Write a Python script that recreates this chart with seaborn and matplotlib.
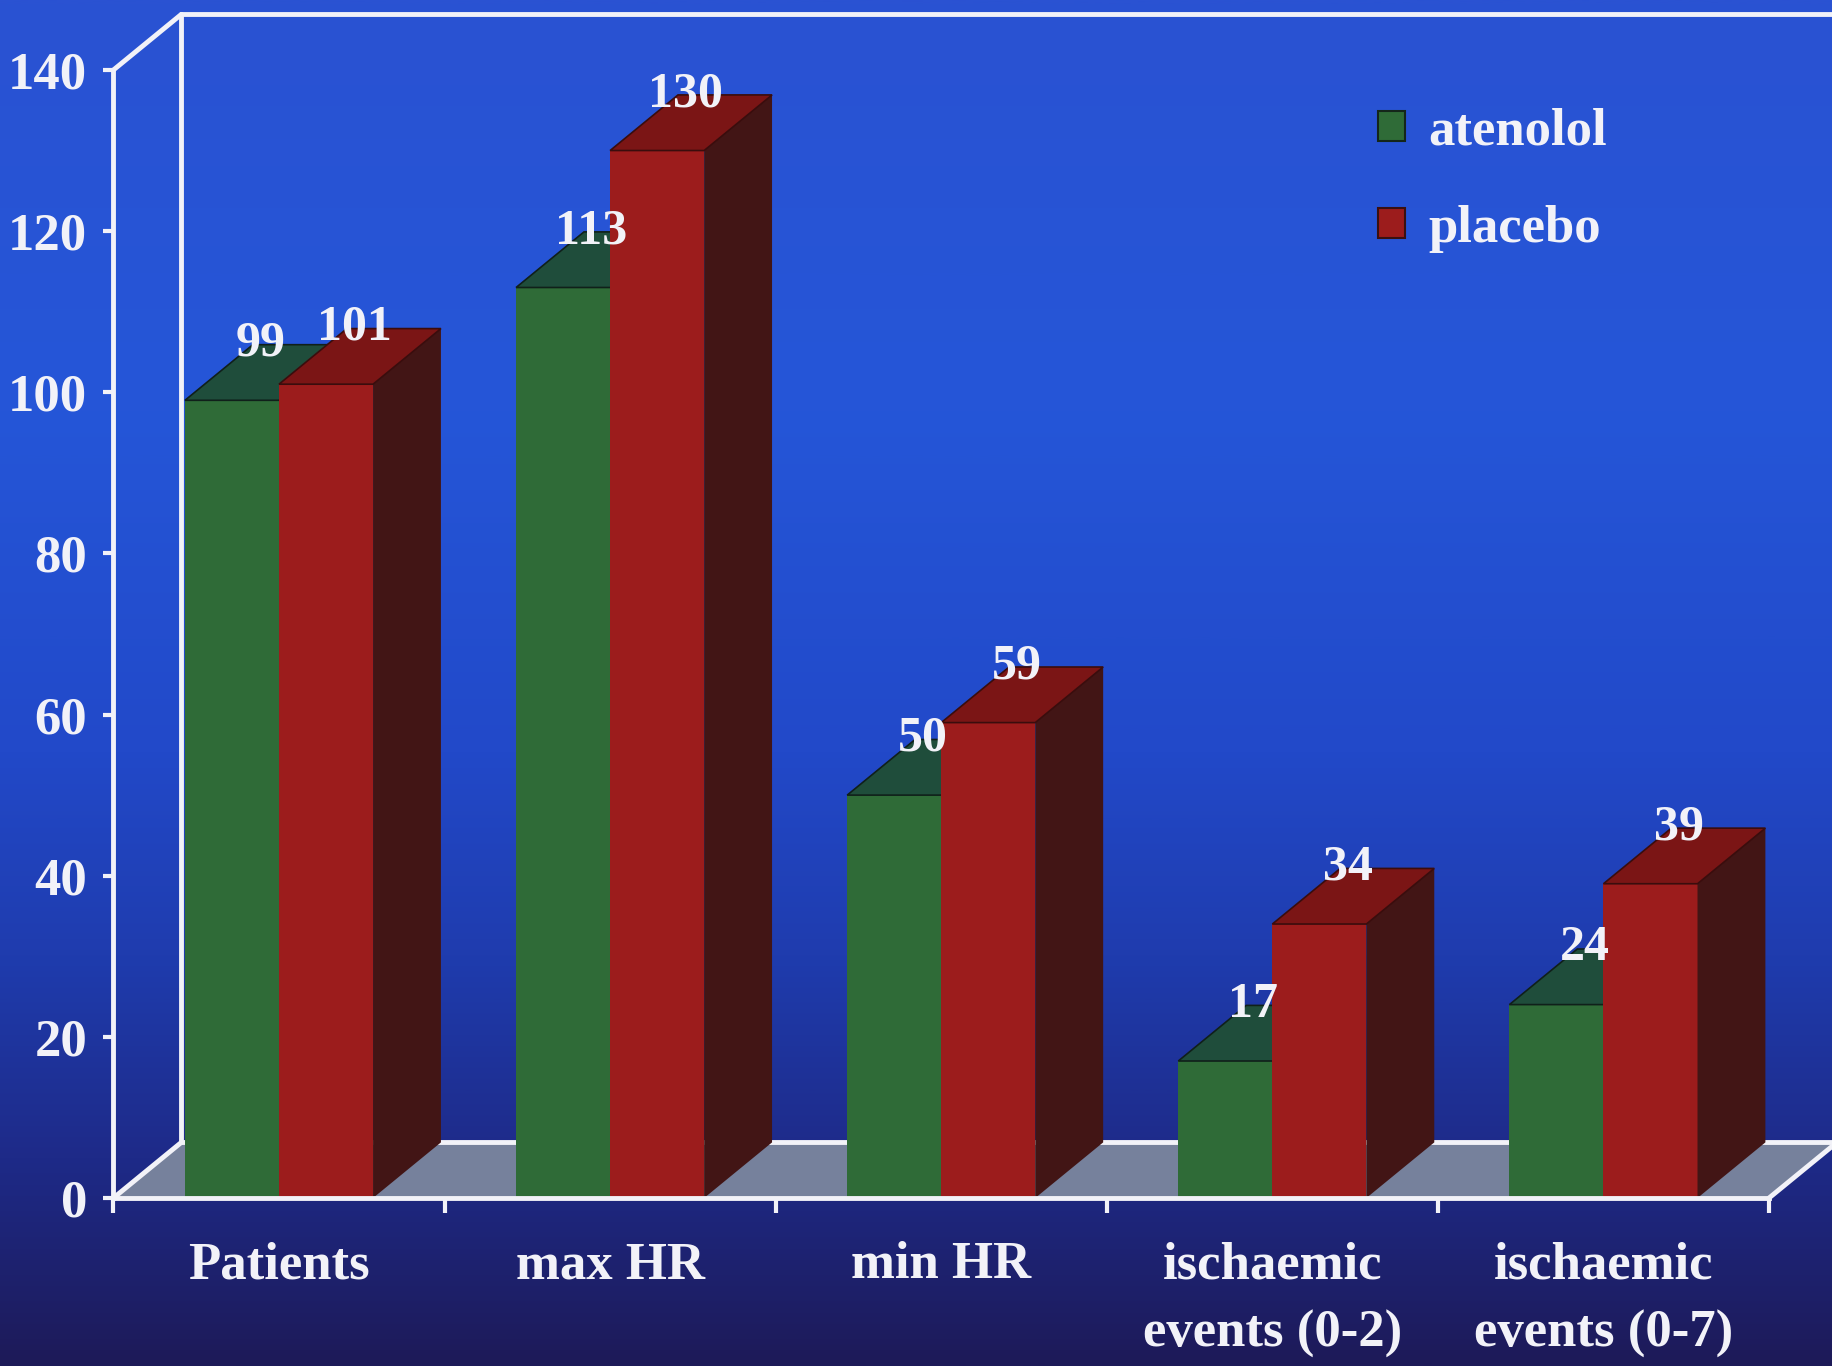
import numpy as np
import pandas as pd
import matplotlib
matplotlib.use("Agg")
import matplotlib.pyplot as plt
from matplotlib.patches import Polygon, Patch
from matplotlib.colors import LinearSegmentedColormap
import seaborn as sns

# ---- data -------------------------------------------------------------
categories = ["Patients", "max HR", "min HR",
              "ischaemic\nevents (0-2)", "ischaemic\nevents (0-7)"]
treatments = ["atenolol", "placebo"]
atenolol = [99, 113, 50, 17, 24]
placebo = [101, 130, 59, 34, 39]
y_ticks = [0, 20, 40, 60, 80, 100, 120, 140]

df = pd.DataFrame({
    "group": categories * 2,
    "value": atenolol + placebo,
    "treatment": ["atenolol"] * len(categories) + ["placebo"] * len(categories),
})

# ---- style ------------------------------------------------------------
sns.set_theme(style="white")
plt.rcParams["font.family"] = ["Liberation Serif", "DejaVu Serif"]
plt.rcParams["font.weight"] = "bold"

WHITE = "#f2f2f8"
front_c = {"atenolol": "#2f6b37", "placebo": "#9c1c1c"}
top_c = {"atenolol": "#1f4d3b", "placebo": "#7b1515"}
side_c = {"atenolol": "#1b3f27", "placebo": "#421515"}
FLOOR = "#76819c"
FS = 38

# depth of the pseudo-3D projection, in data units
DX, DY = 0.205, 6.9

fig = plt.figure(figsize=(18.33, 13.66), dpi=100)

# slide-style vertical gradient background
bg = fig.add_axes([0, 0, 1, 1], zorder=-10)
grad = np.linspace(0, 1, 512)[:, None]
bg_cmap = LinearSegmentedColormap.from_list(
    "slide", [(0.0, "#2a52d2"), (0.3, "#2556d8"), (0.55, "#2249c9"),
              (0.7, "#1f3cae"), (0.85, "#1e2a88"), (1.0, "#1d1a58")])
bg.imshow(grad, aspect="auto", cmap=bg_cmap, extent=[0, 1, 0, 1], origin="upper")
bg.axis("off")

ax = fig.add_axes([0.0619, 0.123, 0.9032, 0.8258])
ax.patch.set_visible(False)

sns.barplot(data=df, x="group", y="value", hue="treatment",
            order=categories, hue_order=treatments, palette=front_c,
            width=0.568, saturation=1, legend=False, ax=ax)

ax.set_xlim(-0.5, len(categories) - 0.5)
ax.set_ylim(0, 140)
x_lo, x_hi = -0.5, len(categories) - 0.5

# floor and back wall
ax.add_patch(Polygon([(x_lo, 0), (x_lo + DX, DY), (x_hi + DX, DY), (x_hi, 0)],
                     closed=True, fc=FLOOR, ec="none", zorder=0.5, clip_on=False))
wall_lines = [
    [(x_lo + DX, DY), (x_hi + DX, DY)],
    [(x_lo + DX, DY), (x_lo + DX, 140 + DY)],
    [(x_lo + DX, 140 + DY), (x_hi + DX, 140 + DY)],
    [(x_hi + DX, DY), (x_hi + DX, 140 + DY)],
    [(x_lo, 140), (x_lo + DX, 140 + DY)],
    [(x_lo, 0), (x_lo + DX, DY)],
    [(x_hi, 0), (x_hi + DX, DY)],
]
for seg in wall_lines:
    xs, ys = zip(*seg)
    ax.plot(xs, ys, color=WHITE, lw=3.5, zorder=0.8, clip_on=False,
            solid_capstyle="round")

# extrude each bar: top face, side face and value label
for j, (name, cont) in enumerate(zip(treatments, ax.containers)):
    z = 2 + j
    for bar in cont:
        x0, w, h = bar.get_x(), bar.get_width(), bar.get_height()
        x1 = x0 + w
        bar.set_zorder(z)
        bar.set_edgecolor("none")
        ax.add_patch(Polygon([(x1, 0), (x1, h), (x1 + DX, h + DY), (x1 + DX, DY)],
                             closed=True, fc=side_c[name], ec="none",
                             zorder=z, clip_on=False))
        ax.add_patch(Polygon([(x0, h), (x1, h), (x1 + DX, h + DY), (x0 + DX, h + DY)],
                             closed=True, fc=top_c[name], ec="#10201a" if j == 0 else "#3a0d0d",
                             lw=1.2, zorder=z, clip_on=False))
        ax.text(x0 + w / 2 + 0.085, h + 7, f"{h:.0f}", ha="center", va="center",
                color=WHITE, fontsize=36, fontweight="bold", zorder=10)

# axes, ticks and labels
for side in ["top", "right"]:
    ax.spines[side].set_visible(False)
for side in ["left", "bottom"]:
    ax.spines[side].set_color(WHITE)
    ax.spines[side].set_linewidth(3.5)
    ax.spines[side].set_zorder(6)

ax.set_yticks(y_ticks)
ax.set_yticklabels([str(t) for t in y_ticks])
ax.set_xticks(range(len(categories)))
ax.set_xticklabels(categories, linespacing=1.55)
ax.set_xticks(np.arange(x_lo, x_hi + 0.01, 1.0), minor=True)
ax.tick_params(axis="y", colors=WHITE, labelcolor=WHITE, length=7, width=3,
               direction="out", labelsize=FS, pad=12, left=True)
ax.tick_params(axis="x", which="major", length=0, labelcolor=WHITE,
               labelsize=FS, pad=31, bottom=True)
ax.tick_params(axis="x", which="minor", length=11, width=3, color=WHITE,
               direction="out", bottom=True)
ax.set_xlabel("")
ax.set_ylabel("")
ax.grid(False)

handles = [Patch(fc=front_c["atenolol"], ec="#14261a", lw=1.5),
           Patch(fc=front_c["placebo"], ec="#3a1010", lw=1.5)]
leg = fig.legend(handles=handles, labels=treatments, loc="upper left",
                 bbox_to_anchor=(0.752, 0.921), frameon=False, fontsize=FS,
                 handlelength=0.5, handleheight=0.5, handletextpad=0.45,
                 labelspacing=0.93, borderpad=0, borderaxespad=0)
for t in leg.get_texts():
    t.set_color(WHITE)
    t.set_fontweight("bold")

fig.savefig("out.png", dpi=100)
